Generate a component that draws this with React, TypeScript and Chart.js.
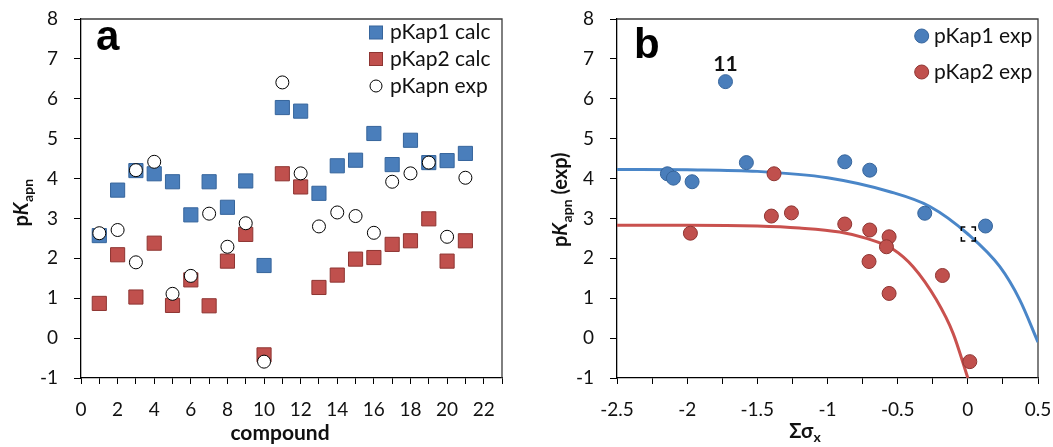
import React, { useEffect, useRef } from "react";
import { Chart, registerables } from "chart.js";
Chart.register(...registerables);

// ---------- Panel a data ----------
const compounds = [1, 2, 3, 4, 5, 6, 7, 8, 9, 10, 11, 12, 13, 14, 15, 16, 17, 18, 19, 20, 21];
const pKap1Calc = [2.57, 3.71, 4.2, 4.12, 3.92, 3.09, 3.92, 3.28, 3.94, 1.82, 5.78, 5.69, 3.63, 4.32, 4.46, 5.13, 4.35, 4.96, 4.4, 4.45, 4.63];
const pKap2Calc = [0.87, 2.09, 1.03, 2.38, 0.82, 1.46, 0.81, 1.93, 2.6, -0.42, 4.12, 3.79, 1.27, 1.58, 1.98, 2.02, 2.35, 2.44, 2.99, 1.93, 2.44];
const expCompound = [1, 2, 3, 3, 4, 5, 6, 7, 8, 9, 10, 11, 12, 13, 14, 15, 16, 17, 18, 19, 20, 21];
const pKapnExp = [2.63, 2.71, 4.21, 1.9, 4.42, 1.11, 1.56, 3.12, 2.29, 2.88, -0.59, 6.41, 4.13, 2.8, 3.15, 3.06, 2.64, 3.92, 4.13, 4.4, 2.54, 4.02];

// ---------- Panel b data ----------
const sigmaBlue = [-2.141, -2.098, -1.965, -1.727, -1.578, -0.877, -0.699, -0.307, 0.126];
const pKap1Exp = [4.12, 4.01, 3.92, 6.43, 4.4, 4.42, 4.21, 3.13, 2.81];
const sigmaRed = [-1.977, -1.4, -1.381, -1.257, -0.877, -0.699, -0.561, -0.58, -0.704, -0.181, -0.561, 0.014];
const pKap2Exp = [2.63, 3.06, 4.12, 3.14, 2.86, 2.71, 2.54, 2.29, 1.92, 1.57, 1.12, -0.59];

const blueCurveX = [-2.5, -2.0, -1.5, -1.0, -0.556, -0.271, 0.0, 0.228, 0.37, 0.5];
const blueCurveY = [4.23, 4.22, 4.18, 4.02, 3.67, 3.3, 2.61, 1.79, 0.96, -0.1];
const redCurveX = [-2.5, -2.0, -1.5, -1.2, -0.913, -0.722, -0.533, -0.39, -0.224, -0.105, 0.0];
const redCurveY = [2.83, 2.83, 2.81, 2.76, 2.66, 2.5, 2.23, 1.79, 0.96, 0.12, -1.0];

const labelledPoint = { text: "11", sigma: -1.727, value: 6.43 };

// axis ranges
const yMin = -1;
const yMax = 8;
const xMinA = 0;
const xMaxA = 23;
const xMinB = -2.5;
const xMaxB = 0.5;

const FONT = "Lato, 'Open Sans', sans-serif";
const TEXT = "#111";
const BLUE = "#4a7ebb";
const BLUE_EDGE = "#36659c";
const RED = "#c0504d";
const RED_EDGE = "#8e3532";
const BLUE_LINE = "#4a86c8";
const RED_LINE = "#c9514e";

const W = 1053;
const H = 447;
const A_W = 526;
const B_W = W - A_W;
const TOP = 19;
const BOTTOM = 378;

function pts(xs: number[], ys: number[]) {
  return xs.map((x, i) => ({ x, y: ys[i] }));
}

function yAxis(width: number) {
  return {
    type: "linear" as const,
    min: yMin,
    max: yMax,
    afterFit: (s: any) => {
      s.width = width;
      s.paddingTop = 0;
      s.paddingBottom = 0;
    },
    grid: { drawOnChartArea: false, drawTicks: true, tickLength: 7, color: "#000", tickColor: "#000", tickWidth: 1 },
    border: { display: true, color: "#000", width: 1.3 },
    ticks: {
      stepSize: 0.5,
      padding: 16,
      color: TEXT,
      font: { family: FONT, size: 19 },
      callback: (v: any) => (Number.isInteger(Number(v)) ? String(v) : ""),
    },
  };
}

function xFit(s: any) {
  s.height = H - BOTTOM;
  s.paddingLeft = 0;
  s.paddingRight = 0;
}

function drawYTitle(ctx: CanvasRenderingContext2D, cx: number, cy: number, extra: string) {
  ctx.save();
  ctx.translate(cx, cy);
  ctx.rotate(-Math.PI / 2);
  ctx.fillStyle = TEXT;
  ctx.textBaseline = "middle";
  const big = `bold 20px ${FONT}`;
  const bigIt = `italic bold 20px ${FONT}`;
  const small = `bold 14px ${FONT}`;
  ctx.font = big;
  const wP = ctx.measureText("p").width;
  ctx.font = bigIt;
  const wK = ctx.measureText("K").width;
  ctx.font = small;
  const wS = ctx.measureText("apn").width;
  ctx.font = big;
  const wE = extra ? ctx.measureText(extra).width : 0;
  const total = wP + wK + wS + wE;
  let x = -total / 2;
  ctx.textAlign = "left";
  ctx.font = big;
  ctx.fillText("p", x, 0);
  x += wP;
  ctx.font = bigIt;
  ctx.fillText("K", x, 0);
  x += wK + 0.5;
  ctx.font = small;
  ctx.fillText("apn", x, 6);
  x += wS;
  if (extra) {
    ctx.font = big;
    ctx.fillText(extra, x, 0);
  }
  ctx.restore();
}

function framePlugin(id: string) {
  return {
    id,
    beforeDatasetsDraw(chart: any) {
      const { ctx, chartArea: a } = chart;
      ctx.save();
      ctx.strokeStyle = "#3c3c3c";
      ctx.lineWidth = 1.3;
      ctx.beginPath();
      ctx.moveTo(a.left, a.top);
      ctx.lineTo(a.right, a.top);
      ctx.lineTo(a.right, a.bottom);
      ctx.stroke();
      ctx.restore();
    },
  };
}

export default function App() {
  const refA = useRef<HTMLCanvasElement>(null);
  const refB = useRef<HTMLCanvasElement>(null);

  useEffect(() => {
    if (!refA.current || !refB.current) return;

    const overlayA = {
      id: "overlayA",
      afterDraw(chart: any) {
        const ctx: CanvasRenderingContext2D = chart.ctx;
        ctx.save();
        ctx.fillStyle = "#000";
        ctx.font = `bold 42px 'Liberation Sans', Arial, sans-serif`;
        ctx.textBaseline = "alphabetic";
        ctx.textAlign = "left";
        ctx.fillText("a", 96, 50);
        // legend
        const lx = 376;
        const rows = [32.5, 59, 86];
        ctx.lineWidth = 1;
        ctx.fillStyle = BLUE;
        ctx.strokeStyle = BLUE_EDGE;
        ctx.fillRect(lx - 6.5, rows[0] - 6.5, 13, 13);
        ctx.strokeRect(lx - 6.5, rows[0] - 6.5, 13, 13);
        ctx.fillStyle = RED;
        ctx.strokeStyle = RED_EDGE;
        ctx.fillRect(lx - 6.5, rows[1] - 6.5, 13, 13);
        ctx.strokeRect(lx - 6.5, rows[1] - 6.5, 13, 13);
        ctx.beginPath();
        ctx.arc(lx, rows[2], 6, 0, Math.PI * 2);
        ctx.fillStyle = "#fff";
        ctx.fill();
        ctx.strokeStyle = "#000";
        ctx.stroke();
        ctx.fillStyle = TEXT;
        ctx.font = `21px ${FONT}`;
        ctx.textBaseline = "middle";
        ctx.fillText("pKap1 calc", 390, rows[0]);
        ctx.fillText("pKap2 calc", 390, rows[1]);
        ctx.fillText("pKapn exp", 390, rows[2]);
        // x title
        ctx.font = `bold 21px ${FONT}`;
        ctx.textAlign = "center";
        ctx.textBaseline = "alphabetic";
        ctx.fillText("compound", 280, 440);
        ctx.restore();
        drawYTitle(ctx, 22, 203, "");
      },
    };

    const overlayB = {
      id: "overlayB",
      afterDraw(chart: any) {
        const ctx: CanvasRenderingContext2D = chart.ctx;
        const xs = chart.scales.x;
        const ys = chart.scales.y;
        ctx.save();
        ctx.fillStyle = "#000";
        ctx.font = `bold 42px 'Liberation Sans', Arial, sans-serif`;
        ctx.textBaseline = "alphabetic";
        ctx.textAlign = "left";
        ctx.fillText("b", 634 - A_W, 58);
        // label 11
        ctx.font = `bold 21px ${FONT}`;
        ctx.textAlign = "center";
        ctx.fillStyle = TEXT;
        ctx.fillText(labelledPoint.text, xs.getPixelForValue(labelledPoint.sigma), ys.getPixelForValue(labelledPoint.value) - 11);
        // selection marker on blue curve at sigma 0
        const mx = xs.getPixelForValue(0) + 0.5;
        const my = ys.getPixelForValue(2.61);
        const h = 7;
        const c = 4;
        ctx.strokeStyle = "#000";
        ctx.lineWidth = 1.5;
        ctx.beginPath();
        ctx.moveTo(mx - h, my - h + c); ctx.lineTo(mx - h, my - h); ctx.lineTo(mx - h + c, my - h);
        ctx.moveTo(mx + h - c, my - h); ctx.lineTo(mx + h, my - h); ctx.lineTo(mx + h, my - h + c);
        ctx.moveTo(mx - h, my + h - c); ctx.lineTo(mx - h, my + h); ctx.lineTo(mx - h + c, my + h);
        ctx.moveTo(mx + h - c, my + h); ctx.lineTo(mx + h, my + h); ctx.lineTo(mx + h, my + h - c);
        ctx.stroke();
        // legend
        const lx = 921.7 - A_W;
        const rows = [36, 72];
        ctx.lineWidth = 1;
        ctx.beginPath();
        ctx.arc(lx, rows[0], 7, 0, Math.PI * 2);
        ctx.fillStyle = BLUE;
        ctx.fill();
        ctx.strokeStyle = BLUE_EDGE;
        ctx.stroke();
        ctx.beginPath();
        ctx.arc(lx, rows[1], 7, 0, Math.PI * 2);
        ctx.fillStyle = RED;
        ctx.fill();
        ctx.strokeStyle = RED_EDGE;
        ctx.stroke();
        ctx.fillStyle = TEXT;
        ctx.font = `21px ${FONT}`;
        ctx.textAlign = "left";
        ctx.textBaseline = "middle";
        ctx.fillText("pKap1 exp", 934 - A_W, rows[0]);
        ctx.fillText("pKap2 exp", 934 - A_W, rows[1]);
        // x title: Σσx
        ctx.textBaseline = "alphabetic";
        ctx.font = `bold 20px ${FONT}`;
        const t = "Σσ";
        const wt = ctx.measureText(t).width;
        ctx.font = `bold 14px ${FONT}`;
        const ws = ctx.measureText("x").width;
        const x0 = 805 - A_W - (wt + ws) / 2;
        ctx.font = `bold 20px ${FONT}`;
        ctx.fillText(t, x0, 438);
        ctx.font = `bold 14px ${FONT}`;
        ctx.fillText("x", x0 + wt, 442);
        ctx.restore();
        drawYTitle(ctx, 561 - A_W, 200, " (exp)");
      },
    };

    const chartA = new Chart(refA.current, {
      type: "scatter",
      data: {
        datasets: [
          {
            label: "pKapn exp",
            data: pts(expCompound, pKapnExp),
            pointStyle: "circle",
            pointRadius: 6.5,
            backgroundColor: "#fff",
            borderColor: "#000",
            borderWidth: 1,
            order: 0,
          },
          {
            label: "pKap2 calc",
            data: pts(compounds, pKap2Calc),
            pointStyle: "rect",
            pointRadius: 10,
            backgroundColor: RED,
            borderColor: RED_EDGE,
            borderWidth: 1,
            order: 1,
          },
          {
            label: "pKap1 calc",
            data: pts(compounds, pKap1Calc),
            pointStyle: "rect",
            pointRadius: 10,
            backgroundColor: BLUE,
            borderColor: BLUE_EDGE,
            borderWidth: 1,
            order: 2,
          },
        ],
      },
      options: {
        animation: false,
        responsive: false,
        devicePixelRatio: 1,
        events: [],
        layout: { padding: { top: TOP, right: A_W - 502, left: 0, bottom: 0 } },
        plugins: { legend: { display: false }, tooltip: { enabled: false } },
        scales: {
          x: {
            type: "linear",
            min: xMinA,
            max: xMaxA,
            afterFit: xFit,
            grid: { drawOnChartArea: false, drawTicks: true, tickLength: 6, color: "#000", tickColor: "#000" },
            border: { display: true, color: "#000", width: 1.3 },
            ticks: {
              stepSize: 1,
              padding: 14,
              maxRotation: 0,
              autoSkip: false,
              color: TEXT,
              font: { family: FONT, size: 19 },
              callback: (v: any) => (Number(v) % 2 === 0 ? String(v) : ""),
            },
          },
          y: yAxis(81),
        },
      },
      plugins: [framePlugin("frameA"), overlayA],
    } as any);

    const chartB = new Chart(refB.current, {
      type: "scatter",
      data: {
        datasets: [
          {
            label: "pKap1 exp",
            data: pts(sigmaBlue, pKap1Exp),
            pointRadius: 7,
            backgroundColor: BLUE,
            borderColor: BLUE_EDGE,
            borderWidth: 1,
            order: 1,
          },
          {
            label: "pKap2 exp",
            data: pts(sigmaRed, pKap2Exp),
            pointRadius: 7,
            backgroundColor: RED,
            borderColor: RED_EDGE,
            borderWidth: 1,
            order: 0,
          },
          {
            label: "fit1",
            data: pts(blueCurveX, blueCurveY),
            showLine: true,
            pointRadius: 0,
            borderColor: BLUE_LINE,
            borderWidth: 3,
            cubicInterpolationMode: "monotone",
            order: 3,
          },
          {
            label: "fit2",
            data: pts(redCurveX, redCurveY),
            showLine: true,
            pointRadius: 0,
            borderColor: RED_LINE,
            borderWidth: 3,
            cubicInterpolationMode: "monotone",
            order: 2,
          },
        ],
      },
      options: {
        animation: false,
        responsive: false,
        devicePixelRatio: 1,
        events: [],
        layout: { padding: { top: TOP, right: B_W - (1038 - A_W), left: 0, bottom: 0 } },
        plugins: { legend: { display: false }, tooltip: { enabled: false } },
        scales: {
          x: {
            type: "linear",
            min: xMinB,
            max: xMaxB,
            afterFit: xFit,
            grid: { drawOnChartArea: false, drawTicks: true, tickLength: 6, color: "#000", tickColor: "#000" },
            border: { display: true, color: "#000", width: 1.3 },
            ticks: {
              stepSize: 0.25,
              padding: 14,
              maxRotation: 0,
              autoSkip: false,
              color: TEXT,
              font: { family: FONT, size: 19 },
              callback: (v: any) => {
                const n = Number(v);
                return Math.abs(n * 2 - Math.round(n * 2)) < 1e-6 ? String(Math.round(n * 2) / 2) : "";
              },
            },
          },
          y: yAxis(617 - A_W),
        },
      },
      plugins: [framePlugin("frameB"), overlayB],
    } as any);

    return () => {
      chartA.destroy();
      chartB.destroy();
    };
  }, []);

  return (
    <div style={{ position: "absolute", left: 0, top: 0, width: W, height: H, background: "#fff" }}>
      <canvas ref={refA} width={A_W} height={H} style={{ position: "absolute", left: 0, top: 0, width: A_W, height: H }} />
      <canvas ref={refB} width={B_W} height={H} style={{ position: "absolute", left: A_W, top: 0, width: B_W, height: H }} />
    </div>
  );
}
